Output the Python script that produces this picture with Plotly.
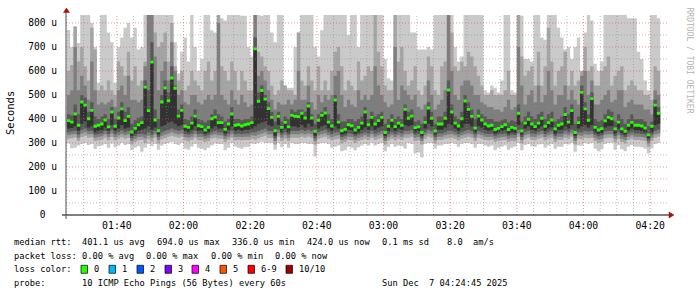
import plotly.graph_objects as go
import pandas as pd
import numpy as np

# ---------------- data (microseconds) ----------------
median = [393,387,421,374,471,458,401,436,370,374,379,396,367,429,370,404,442,393,411,346,361,376,385,533,435,637,396,351,471,529,476,571,528,412,436,370,365,383,412,372,368,354,365,401,408,
          385,385,357,379,421,374,376,371,376,379,385,692,474,519,483,443,407,351,411,365,386,367,415,411,410,424,404,454,404,349,395,415,425,387,371,479,387,351,357,376,372,354,365,383,429,
          376,407,379,393,407,344,370,395,368,383,374,440,403,412,364,367,344,386,446,403,350,379,379,403,521,429,383,371,401,475,440,411,362,412,396,379,371,374,356,361,368,376,356,365,361,
          424,350,383,399,379,368,383,403,370,385,396,359,374,379,419,387,435,344,385,511,442,395,485,365,354,360,392,407,401,359,387,359,349,374,386,374,374,371,362,334,370,458,424]

ping10 = [771,625,785,717,900,900,900,780,690,550,880,900,760,720,550,700,740,780,800,740,780,690,700,900,900,900,900,900,900,900,900,900,720,590,680,740,640,900,700,600,650,900,900,770,760,
          900,820,810,900,900,900,840,830,830,700,660,900,900,830,900,900,760,720,900,900,540,530,530,700,760,900,900,900,900,700,660,770,900,900,900,900,860,900,880,750,900,900,700,900,860,
          900,900,900,900,850,650,570,560,900,900,900,900,900,760,760,690,690,690,700,690,900,900,900,900,900,900,700,640,640,900,900,900,900,900,900,520,510,540,530,510,560,900,900,520,510,
          900,830,650,650,640,900,900,740,730,900,900,900,780,740,690,700,650,700,740,600,760,900,810,630,600,640,900,900,900,900,900,900,900,820,820,820,680,650,560,520,900,900,820]

ping9 = [600,700,785,640,700,620,560,800,700,520,540,520,560,520,500,640,620,580,680,560,620,540,560,620,900,900,760,700,720,760,640,800,620,560,600,520,540,600,560,540,520,600,640,560,600,
         900,620,600,560,640,600,520,600,560,520,520,900,680,660,620,600,540,500,520,560,540,520,520,500,760,560,540,620,560,520,620,520,560,520,600,680,700,620,520,560,540,520,640,560,580,
         620,600,880,680,620,540,520,520,900,640,700,600,540,560,620,520,500,540,660,620,520,500,620,640,900,760,620,600,660,620,680,660,620,580,540,500,500,520,500,500,500,520,600,500,500,
         900,660,580,600,620,540,680,540,620,780,640,540,600,620,680,540,600,540,560,600,700,600,620,540,540,600,620,660,540,580,600,620,520,540,560,540,520,520,500,500,480,620,600]

ping8 = [500,520,700,520,580,540,480,640,520,460,470,460,470,480,450,520,540,500,580,480,480,470,480,640,900,900,660,520,600,640,560,720,600,500,520,470,460,500,500,470,460,480,500,480,500,
         800,500,480,460,520,480,460,500,470,450,460,900,580,600,560,520,480,440,470,460,460,480,460,480,600,480,480,540,470,440,500,470,500,480,500,580,600,500,450,480,460,450,520,480,500,
         480,500,620,540,500,470,450,460,700,480,540,520,500,480,500,450,440,460,560,500,440,460,480,520,900,600,500,480,540,560,560,540,500,500,470,460,450,450,440,440,430,450,480,440,450,
         700,540,460,500,520,470,540,470,500,600,520,460,500,500,540,480,520,480,460,580,600,500,560,460,460,480,500,520,470,480,520,520,450,470,480,460,460,460,440,440,420,520,500]

ping7 = [420,415,460,420,500,490,430,470,410,400,410,420,400,450,400,430,470,430,450,380,395,405,410,560,520,720,440,400,500,560,510,620,540,440,460,400,395,410,440,400,395,385,395,420,440,
         420,410,390,400,450,400,400,395,400,400,410,740,510,540,500,470,430,390,430,390,410,400,440,430,440,440,430,470,420,380,420,430,450,420,400,500,420,390,390,400,400,390,400,410,450,
         400,430,410,420,430,380,400,420,400,410,400,460,430,440,390,395,380,410,470,430,380,410,410,430,560,460,410,400,430,500,470,440,400,440,420,410,400,400,390,390,395,400,385,395,390,
         460,390,410,430,410,400,420,430,400,420,430,390,400,410,450,420,460,380,410,540,470,420,510,400,390,395,420,440,430,390,420,400,380,400,420,400,400,400,390,370,390,480,450]

ping5 = [360,362,370,350,380,390,365,370,345,350,352,365,350,375,350,360,375,360,365,330,340,350,355,360,370,355,365,335,370,375,385,390,380,370,375,350,345,355,370,350,350,340,345,360,370,
         360,360,340,355,370,350,355,350,355,355,360,370,380,385,390,375,370,330,375,345,360,345,370,370,365,375,365,380,370,330,360,370,375,360,350,370,360,335,340,355,350,338,345,355,365,
         355,370,355,365,370,330,350,365,350,360,355,375,370,375,345,350,330,360,380,370,335,355,355,365,380,375,360,350,365,380,380,370,345,370,365,355,350,355,340,345,350,355,340,345,343,
         375,335,360,370,355,350,360,370,350,360,365,340,355,355,370,360,375,330,360,370,375,365,375,345,338,342,365,370,370,340,360,342,335,352,360,352,352,350,345,320,345,375,380]

ping4 = [345,348,350,335,355,360,350,350,335,338,340,350,338,355,338,345,352,345,350,320,330,338,340,335,345,335,350,325,345,350,355,360,355,350,355,338,335,340,350,338,338,330,335,345,350,
         345,345,330,340,350,338,340,338,340,340,345,345,350,355,360,350,350,320,355,335,345,335,350,350,350,355,350,355,350,320,345,350,355,345,338,345,345,325,330,340,338,328,335,340,345,
         340,350,340,345,350,320,338,345,338,345,340,350,350,355,335,338,320,345,355,350,325,340,340,345,350,350,345,338,345,350,355,350,335,350,345,340,338,340,330,335,338,340,330,335,333,
         355,325,345,350,340,338,345,350,338,345,350,330,340,340,350,345,355,320,345,345,350,348,350,335,328,332,348,350,350,330,345,332,325,340,345,340,340,338,335,310,335,350,355]

ping3 = [332,335,338,322,340,345,336,338,322,325,328,336,325,340,325,332,338,332,336,308,318,325,326,320,330,322,336,312,330,335,340,345,340,336,340,325,322,326,336,325,325,318,322,332,336,
         332,332,318,326,336,325,326,325,326,326,332,330,335,340,345,336,336,308,340,322,332,322,336,336,336,340,336,340,336,308,332,336,340,332,325,330,332,312,318,326,325,315,322,326,332,
         326,336,326,332,336,308,325,332,325,332,326,336,336,340,322,325,308,332,340,336,312,326,326,332,335,336,332,325,332,336,340,336,322,336,332,326,325,326,318,322,325,326,318,322,320,
         340,312,332,336,326,325,332,336,325,332,336,318,326,326,336,332,340,308,332,330,336,334,336,322,315,318,334,336,336,318,332,318,312,326,332,326,326,325,322,298,322,336,340]

ping2 = [318,320,324,308,325,330,322,324,308,310,314,322,310,325,310,318,324,318,322,294,304,310,312,300,316,306,322,298,316,320,326,330,326,322,326,310,306,312,322,310,310,304,308,318,322,
         318,318,304,312,322,310,312,310,312,312,318,314,320,325,330,322,322,294,326,308,318,308,322,322,322,326,322,326,322,294,318,322,326,318,310,316,318,298,304,312,310,300,308,312,318,
         312,322,312,318,322,294,310,318,310,318,312,322,322,326,308,310,294,318,326,322,298,312,312,318,320,322,318,310,318,322,326,322,308,322,318,312,310,312,304,308,310,312,304,308,306,
         326,298,318,322,312,310,318,322,310,318,322,304,312,312,322,318,326,294,318,316,322,320,322,308,300,304,320,322,322,304,318,304,298,312,318,312,312,310,308,284,308,322,326]

ping1 = [298,278,280,290,296,300,292,296,275,286,290,296,280,298,282,290,300,292,296,270,280,286,264,280,296,286,296,272,290,296,300,304,296,292,300,276,272,285,296,280,276,270,280,290,298,
         296,296,270,280,300,285,280,276,282,284,298,296,300,305,300,300,300,272,300,282,296,280,300,296,296,300,300,296,296,244,296,300,300,296,280,284,290,266,270,284,280,270,282,290,296,
         290,300,290,296,300,266,284,296,284,290,286,276,300,296,256,260,240,296,300,300,276,290,290,296,296,300,296,284,296,300,300,296,280,296,296,290,284,290,270,280,284,290,272,280,285,
         300,270,292,296,286,284,294,296,280,290,296,276,284,284,296,294,300,264,290,290,300,296,300,276,266,274,296,300,300,272,292,274,266,284,292,284,284,282,276,256,278,296,300]

x_tick_labels = ["01:40", "02:00", "02:20", "02:40", "03:00", "03:20", "03:40", "04:00", "04:20"]
y_tick_values = [0, 100, 200, 300, 400, 500, 600, 700, 800]
loss_labels = ["0", "1", "2", "3", "4", "5", "6-9", "10/10"]
loss_colors = ["#26ff00", "#00b8ff", "#0059ff", "#7e00ff", "#ff00ff", "#ff5500", "#ff0000", "#a10000"]

# ---------------- geometry helpers ----------------
W, H = 697, 297
L, R, T, B = 66, 666, 15, 215  # plot area in px
def px(xp):
    return (xp - L) / (R - L)
def py(yp):
    return (B - yp) / (B - T)

day = "2025-12-07 "
t_start = pd.Timestamp(day + "01:25:00")
n = len(median)
times = pd.date_range(t_start, periods=n + 1, freq="60s")

# smokeping stores the pings of each step sorted; ping6 is the median
pings = np.sort(np.array([ping1, ping2, ping3, ping4, ping5, median, ping7, ping8, ping9, ping10], dtype=float), axis=0)

def ext(a):
    a = list(a)
    return a + [a[-1]]

fig = go.Figure()
smoke_colors = ["#cacaca", "#a4a4a4", "#7e7e7e", "#585858", "#323232"]
for i, col in enumerate(smoke_colors):
    lo, hi = pings[i], pings[9 - i]
    fig.add_trace(go.Scatter(x=times, y=ext(lo), mode="lines", line=dict(width=0, shape="hv"),
                             hoverinfo="skip", showlegend=False))
    fig.add_trace(go.Scatter(x=times, y=ext(hi), mode="lines", line=dict(width=0, shape="hv"),
                             fill="tonexty", fillcolor=col, hoverinfo="skip", showlegend=False))

med = np.array(median, dtype=float)
fig.add_trace(go.Scatter(x=times, y=ext(med - 6), mode="lines", line=dict(width=0, shape="hv"),
                         hoverinfo="skip", showlegend=False))
fig.add_trace(go.Scatter(x=times, y=ext(med + 6), mode="lines", line=dict(width=0, shape="hv"),
                         fill="tonexty", fillcolor=loss_colors[0], hoverinfo="skip", showlegend=False))

shapes = []
# grid (drawn above data like rrdtool)
minor_col = "rgba(140,140,140,0.55)"
major_col = "rgba(200,90,90,0.6)"
tm = pd.Timestamp(day + "01:25:00")
t_end = pd.Timestamp(day + "04:24:45")
while tm < t_end:
    major = tm.minute % 20 == 0
    shapes.append(dict(type="line", xref="x", yref="paper", x0=tm, x1=tm, y0=0, y1=1, layer="above",
                       line=dict(color=major_col if major else minor_col, width=1, dash="1px,2px")))
    tm += pd.Timedelta(minutes=5)
for v in range(50, 801, 50):
    major = v % 100 == 0
    shapes.append(dict(type="line", xref="paper", yref="y", x0=0, x1=px(669), y0=v, y1=v, layer="above",
                       line=dict(color=major_col if major else minor_col, width=1, dash="1px,2px")))
# axes
shapes.append(dict(type="line", xref="paper", yref="paper", x0=px(62), x1=px(669), y0=py(215), y1=py(215),
                   layer="above", line=dict(color="#000000", width=1)))
shapes.append(dict(type="line", xref="paper", yref="paper", x0=px(66), x1=px(66), y0=py(219), y1=py(11),
                   layer="above", line=dict(color="#555555", width=1)))
# arrows
def tri(pts):
    return "M " + " L ".join(f"{px(a):.5f},{py(b):.5f}" for a, b in pts) + " Z"
shapes.append(dict(type="path", xref="paper", yref="paper", path=tri([(669, 212), (674, 215), (669, 218)]),
                   fillcolor="#a01010", line=dict(color="#a01010", width=0.5), layer="above"))
shapes.append(dict(type="path", xref="paper", yref="paper", path=tri([(63.5, 12.5), (66.5, 8), (69.5, 12.5)]),
                   fillcolor="#a01010", line=dict(color="#a01010", width=0.5), layer="above"))

mono = "DejaVu Sans Mono"
ann = []
def text(s, x, y, size=8.7, anchor="left", color="#000000", angle=0):
    ann.append(dict(text=s, x=px(x), y=py(y), xref="paper", yref="paper", showarrow=False,
                    xanchor=anchor, yanchor="middle", textangle=angle,
                    font=dict(family=mono, size=size, color=color)))

text("Seconds", 10, 113, size=10.5, anchor="center", angle=-90)
text("RRDTOOL / TOBI OETIKER", 688.5, 60, size=8, anchor="center", color="#b4b4b4", angle=90)

r1, r2, r3, r4 = 241.5, 255.5, 269.3, 283.3
text("median rtt:", 12, r1)
text("401.1 us avg", 80, r1)
text("694.0 us max", 155, r1)
text("336.0 us min", 230, r1)
text("424.0 us now", 305, r1)
text("0.1 ms sd", 380, r1)
text("8.0", 445, r1)
text("am/s", 471, r1)
text("packet loss:", 12, r2)
text("0.00 % avg", 80, r2)
text("0.00 % max", 144, r2)
text("0.00 % min", 209, r2)
text("0.00 % now", 273, r2)
text("loss color:", 12, r3)
box_x = [81, 109, 137, 165, 192, 220, 248, 286]
for bx, lab, col in zip(box_x, loss_labels, loss_colors):
    shapes.append(dict(type="rect", xref="paper", yref="paper", x0=px(bx), x1=px(bx + 6.5),
                       y0=py(r3 + 4), y1=py(r3 - 4), fillcolor=col, line=dict(color="#000000", width=0.7)))
    text(lab, bx + 11, r3)
text("probe:", 12, r4)
text("10 ICMP Echo Pings (56 Bytes) every 60s", 80, r4)
text("Sun Dec  7 04:24:45 2025", 510, r4, anchor="right")

fig.update_layout(
    width=W, height=H, margin=dict(l=L, r=W - R, t=T, b=H - B),
    paper_bgcolor="#ffffff", plot_bgcolor="#ffffff",
    shapes=shapes, annotations=ann, showlegend=False,
    xaxis=dict(type="date", range=[day + "01:24:45", day + "04:24:45"],
               tickvals=[day + s + ":00" for s in x_tick_labels], ticktext=x_tick_labels,
               showgrid=False, zeroline=False, showline=False, ticks="outside", ticklen=1,
               tickcolor="rgba(0,0,0,0)", tickfont=dict(family=mono, size=9.8, color="#000000")),
    yaxis=dict(range=[0, 833.33], tickvals=y_tick_values,
               ticktext=["\u00a0\u00a00\u00a0\u00a0"] + [f"{v} u" for v in y_tick_values[1:]],
               showgrid=False, zeroline=False, showline=False, ticks="outside", ticklen=6,
               tickcolor="rgba(0,0,0,0)", tickfont=dict(family=mono, size=9.6, color="#000000")),
)
fig.write_html("out.html")
